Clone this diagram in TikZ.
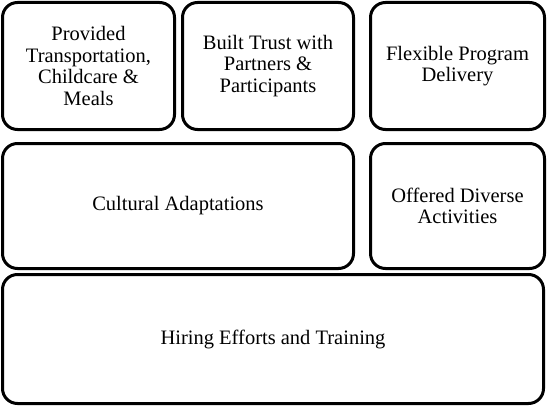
\documentclass[tikz,border=0pt]{standalone}
\usepackage{fontspec}
\newfontfamily\boxfont{Liberation Serif}
\begin{document}
\begin{tikzpicture}[x=1pt,y=-1pt,
    box/.style={draw=black, line width=3pt, rounded corners=15pt, fill=white, inner sep=0pt, align=center, font=\boxfont\fontsize{20.5}{21.7}\selectfont}]
    \useasboundingbox (0,0) rectangle (548,409);
    \node[box, minimum width=172pt, minimum height=127pt] (transport) at (88.5,66) {Provided\\Transportation,\\Childcare \&\\Meals};
    \node[box, minimum width=171pt, minimum height=127pt] (trust) at (268,66) {Built Trust with\\Partners \&\\Participants};
    \node[box, minimum width=174pt, minimum height=127pt] (flexible) at (457.5,66) {Flexible Program\\Delivery};
    \node[box, minimum width=351pt, minimum height=125pt] (cultural) at (178,206) {Cultural Adaptations};
    \node[box, minimum width=174pt, minimum height=125pt] (diverse) at (457.5,206) {Offered Diverse\\Activities};
    \node[box, minimum width=541pt, minimum height=129pt] (hiring) at (273,339) {Hiring Efforts and Training};
\end{tikzpicture}
\end{document}
